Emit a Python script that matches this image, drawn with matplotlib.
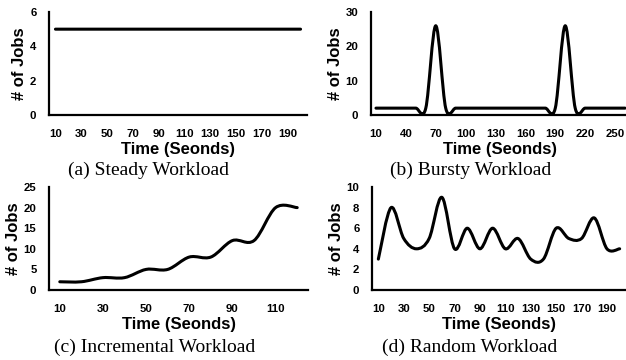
import numpy as np
import matplotlib
matplotlib.use("Agg")
import matplotlib.pyplot as plt
from matplotlib.path import Path
from matplotlib.patches import PathPatch

# data
steady_t = list(range(10, 201, 10))
steady_jobs = [5] * 20

bursty_t = list(range(10, 261, 10))
bursty_jobs = [2, 2, 2, 2, 2, 2, 26, 2, 2, 2, 2, 2, 2, 2, 2, 2, 2, 2, 2, 26, 2, 2, 2, 2, 2, 2]

incr_t = list(range(10, 121, 10))
incr_jobs = [2, 2, 3, 3, 5, 5, 8, 8, 12, 12, 20, 20]

random_t = list(range(10, 201, 10))
random_jobs = [3, 8, 5, 4, 5, 9, 4, 6, 4, 6, 4, 5, 3, 3, 6, 5, 5, 7, 4, 4]

SANS = "Liberation Sans"
SERIF = "Liberation Serif"
W, H = 626, 360


def smooth_path(x, y):
    # Excel-style smoothed line as cubic bezier segments
    x = np.asarray(x, float)
    y = np.asarray(y, float)
    px = np.concatenate([[x[0]], x, [x[-1]]])
    py = np.concatenate([[y[0]], y, [y[-1]]])
    verts = [(x[0], y[0])]
    codes = [Path.MOVETO]
    for i in range(1, len(x)):
        p0 = np.array([px[i - 1], py[i - 1]])
        p1 = np.array([px[i], py[i]])
        p2 = np.array([px[i + 1], py[i + 1]])
        p3 = np.array([px[i + 2], py[i + 2]])
        c1 = p1 + (p2 - p0) / 6
        c2 = p2 - (p3 - p1) / 6
        verts += [tuple(c1), tuple(c2), tuple(p2)]
        codes += [Path.CURVE4] * 3
    return Path(verts, codes)


def make_ax(fig, left, right, top, bottom):
    return fig.add_axes([left / W, 1 - bottom / H, (right - left) / W, (bottom - top) / H])


def style(ax, t, jobs, ymax, ystep, xticks):
    step = t[1] - t[0]
    ax.add_patch(PathPatch(smooth_path(t, jobs), fill=False, lw=2.2, color="black",
                           capstyle="round", joinstyle="round"))
    ax.set_xlim(t[0] - step / 2, t[-1] + step / 2)
    ax.set_ylim(0, ymax)
    ax.set_yticks(range(0, ymax + 1, ystep))
    ax.set_xticks(xticks)
    for s in ["top", "right"]:
        ax.spines[s].set_visible(False)
    for s in ["left", "bottom"]:
        ax.spines[s].set_linewidth(1.6)
    ax.tick_params(length=0, labelsize=8.2)
    ax.tick_params(axis="y", pad=9)
    ax.tick_params(axis="x", pad=10)
    for lab in ax.get_xticklabels() + ax.get_yticklabels():
        lab.set_fontfamily(SANS)
        lab.set_fontweight("bold")
    ax.set_xlabel("Time (Seonds)", fontsize=12, fontweight="bold", family=SANS, labelpad=2)
    ax.set_ylabel("# of Jobs", fontsize=12, fontweight="bold", family=SANS, labelpad=2)


fig = plt.figure(figsize=(W / 100, H / 100), dpi=100)

ax = make_ax(fig, 49, 307, 12, 115)
style(ax, steady_t, steady_jobs, 6, 2, steady_t[::2])

ax = make_ax(fig, 371, 630, 12, 115)
style(ax, bursty_t, bursty_jobs, 30, 10, bursty_t[::3])

ax = make_ax(fig, 49, 308, 187, 290)
style(ax, incr_t, incr_jobs, 25, 5, incr_t[::2])

ax = make_ax(fig, 372, 626, 187, 290)
style(ax, random_t, random_jobs, 10, 2, random_t[::2])

captions = [("(a) Steady Workload", 148, 170), ("(b) Bursty Workload", 471, 170),
            ("(c) Incremental Workload", 155, 347), ("(d) Random Workload", 470, 347)]
for txt, cx, cy in captions:
    fig.text(cx / W, 1 - cy / H, txt, ha="center", va="center", fontsize=14, family=SERIF)

fig.savefig("out.png", dpi=100)
